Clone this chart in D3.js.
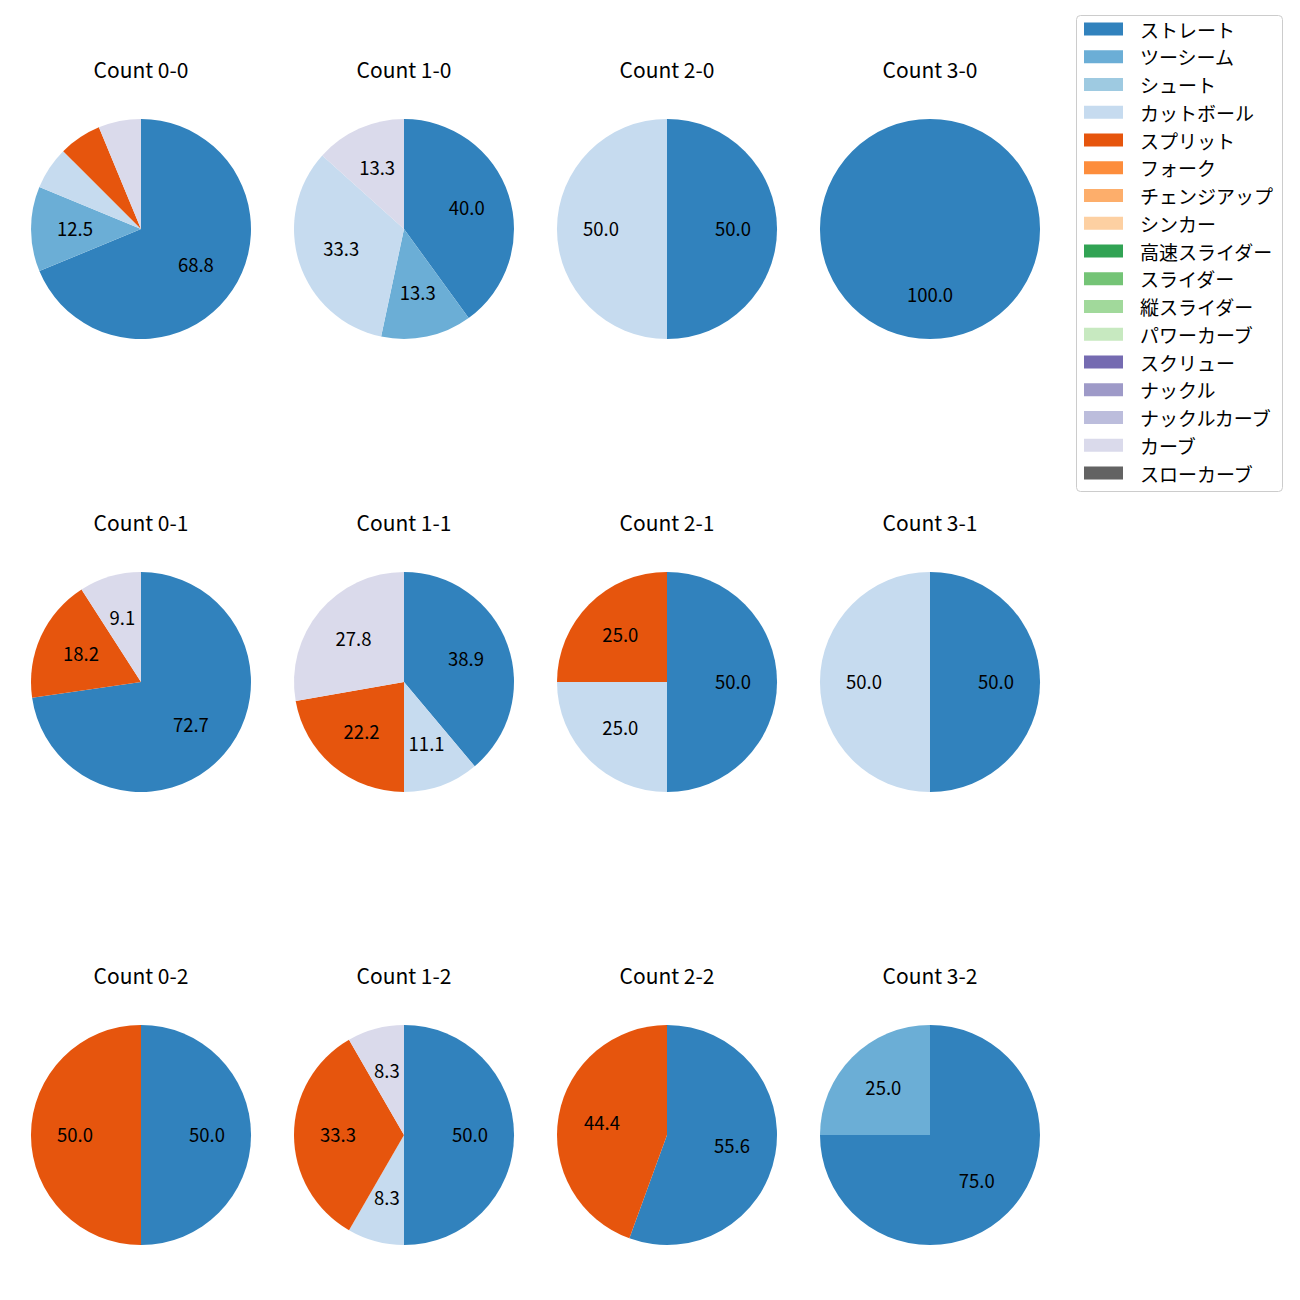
<!DOCTYPE html>
<html><head><meta charset="utf-8">
<script src="https://cdn.jsdelivr.net/npm/d3@7"></script>
<style>body{margin:0;background:#fff;} text{font-family:"Noto Sans CJK JP","Noto Sans",sans-serif;}</style>
</head><body>
<svg id="chart" width="1300" height="1300"></svg>
<script>
const pitchTypes = ["ストレート","ツーシーム","シュート","カットボール","スプリット","フォーク","チェンジアップ","シンカー","高速スライダー","スライダー","縦スライダー","パワーカーブ","スクリュー","ナックル","ナックルカーブ","カーブ","スローカーブ"];
const pitchColors = ["#3182bd","#6baed6","#9ecae1","#c6dbef","#e6550d","#fd8d3c","#fdae6b","#fdd0a2","#31a354","#74c476","#a1d99b","#c7e9c0","#756bb1","#9e9ac8","#bcbddc","#dadaeb","#636363"];
const countTitles = ["Count 0-0","Count 1-0","Count 2-0","Count 3-0","Count 0-1","Count 1-1","Count 2-1","Count 3-1","Count 0-2","Count 1-2","Count 2-2","Count 3-2"];
// pitch counts per type, in pitchTypes order
const count00 = [11,2,0,1,1,0,0,0,0,0,0,0,0,0,0,1,0];
const count10 = [6,2,0,5,0,0,0,0,0,0,0,0,0,0,0,2,0];
const count20 = [1,0,0,1,0,0,0,0,0,0,0,0,0,0,0,0,0];
const count30 = [1,0,0,0,0,0,0,0,0,0,0,0,0,0,0,0,0];
const count01 = [8,0,0,0,2,0,0,0,0,0,0,0,0,0,0,1,0];
const count11 = [7,0,0,2,4,0,0,0,0,0,0,0,0,0,0,5,0];
const count21 = [2,0,0,1,1,0,0,0,0,0,0,0,0,0,0,0,0];
const count31 = [1,0,0,1,0,0,0,0,0,0,0,0,0,0,0,0,0];
const count02 = [1,0,0,0,1,0,0,0,0,0,0,0,0,0,0,0,0];
const count12 = [6,0,0,1,4,0,0,0,0,0,0,0,0,0,0,1,0];
const count22 = [5,0,0,0,4,0,0,0,0,0,0,0,0,0,0,0,0];
const count32 = [3,1,0,0,0,0,0,0,0,0,0,0,0,0,0,0,0];
const allCounts = [count00,count10,count20,count30,count01,count11,count21,count31,count02,count12,count22,count32];

const svg = d3.select("#chart");
const color = d3.scaleOrdinal().domain(pitchTypes).range(pitchColors);
const colX = d3.scalePoint().domain([0,1,2,3]).range([141,930]);
const rowY = d3.scalePoint().domain([0,1,2]).range([229,1135]);
const R = 110;
const pie = d3.pie().sort(null).value(d => d.v).startAngle(0).endAngle(2*Math.PI);
const arc = d3.arc().innerRadius(0).outerRadius(R);
const labelArc = d3.arc().innerRadius(R*0.6).outerRadius(R*0.6);

allCounts.forEach((vals, i) => {
  const cx = colX(i % 4), cy = rowY(Math.floor(i / 4));
  const total = d3.sum(vals);
  const data = pitchTypes.map((t, k) => ({t, v: vals[k]})).filter(d => d.v > 0);
  const g = svg.append("g").attr("transform", `translate(${cx},${cy})`);
  g.append("text").attr("x", 0).attr("y", -160).attr("text-anchor","middle")
    .attr("dominant-baseline","central")
    .attr("font-size", 21).attr("fill","#000").text(countTitles[i]);
  const arcs = pie(data);
  g.selectAll("path").data(arcs).join("path")
    .attr("d", arc).attr("fill", d => color(d.data.t));
  g.selectAll("text.lbl").data(arcs.filter(d => d.data.v / total * 100 >= 7)).join("text")
    .attr("class","lbl")
    .attr("transform", d => { const c = labelArc.centroid(d); return `translate(${c[0]},${c[1]-1.5})`; })
    .attr("text-anchor","middle").attr("dominant-baseline","central")
    .attr("font-size", 18.5).attr("fill","#000")
    .text(d => (d.data.v / total * 100).toFixed(1));
});

// legend
const lg = svg.append("g");
lg.append("rect").attr("x",1076.5).attr("y",15.5).attr("width",206).attr("height",476)
  .attr("rx",4).attr("fill","#fff").attr("stroke","#ccc");
const ly = d3.scalePoint().domain(pitchTypes).range([29, 473]);
pitchTypes.forEach(t => {
  lg.append("rect").attr("x",1084).attr("y",ly(t)-6.5).attr("width",39).attr("height",13).attr("fill",color(t));
  lg.append("text").attr("x",1140).attr("y",ly(t)).attr("dominant-baseline","central")
    .attr("font-size",19).attr("fill","#000").text(t);
});
</script>
</body></html>
